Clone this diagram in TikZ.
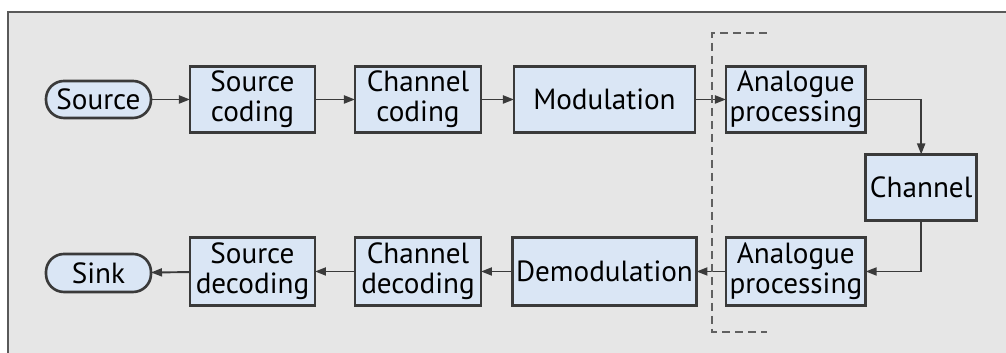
\documentclass[tikz,border=0pt]{standalone}
\usepackage{fontspec}
\setmainfont{PT Sans}
\usepackage{xcolor}
\usetikzlibrary{arrows.meta, positioning}
\definecolor{boxfill}{HTML}{DAE6F5}
\definecolor{panel}{HTML}{E6E6E6}
\definecolor{edge}{HTML}{3A3A3A}
\tikzset{
  blk/.style={rectangle, draw=edge, line width=0.75pt, fill=boxfill, outer sep=0pt,
              minimum height=0.66cm, align=center, inner sep=1pt,
              font=\fontsize{8.3}{8.6}\selectfont},
  term/.style={rectangle, rounded corners=0.18cm, draw=edge, line width=0.75pt,
               fill=boxfill, outer sep=0pt, minimum width=1.05cm, minimum height=0.37cm,
               align=center, inner sep=1pt, font=\fontsize{8.3}{8.6}\selectfont},
  arr/.style={-{Triangle[length=0.11cm, width=0.08cm]}, line width=0.55pt, draw=edge},
  bound/.style={dashed, dash pattern=on 0.08cm off 0.05cm, line width=0.65pt, draw=gray!75!black},
}

\begin{document}
\begin{tikzpicture}[node distance=0.37cm]
  \useasboundingbox (0,0) rectangle (10.06,3.53);
  % grey panel, only its left and top edges are inside the page
  \fill[panel] (0.08,0) rectangle (10.06,3.41);
  \draw[gray!70!black, line width=0.8pt] (0.08,0) -- (0.08,3.41) -- (10.06,3.41);

  % transmitter chain
  \node[term] (src) at (0.985,2.535) {Source};
  \node[blk, minimum width=1.25cm, right=0.39cm of src] (srccod) {Source\\coding};
  \node[blk, minimum width=1.26cm, right=0.40cm of srccod] (chcod) {Channel\\coding};
  \node[blk, minimum width=1.81cm, right=0.33cm of chcod] (mod) {Modulation};
  \node[blk, minimum width=1.39cm, right=0.31cm of mod] (aptx) {Analogue\\processing};
  \node[blk, minimum width=1.11cm, below right=0.22cm and 0cm of aptx] (chan) {Channel};

  % receiver chain
  \node[blk, minimum width=1.39cm, minimum height=0.68cm, below=1.05cm of aptx] (aprx) {Analogue\\processing};
  \node[blk, minimum width=1.81cm, minimum height=0.68cm, below=1.05cm of mod] (demod) {Demodulation};
  \node[blk, minimum width=1.26cm, minimum height=0.68cm, below=1.05cm of chcod] (chdec) {Channel\\decoding};
  \node[blk, minimum width=1.25cm, minimum height=0.68cm, below=1.05cm of srccod] (srcdec) {Source\\decoding};
  \node[term, minimum height=0.38cm] (sink) at (0.985,0.80) {Sink};

  \foreach \a/\b in {src/srccod,srccod/chcod,chcod/mod,mod/aptx,
                     aprx/demod,demod/chdec,chdec/srcdec,srcdec/sink}
    \draw[arr] (\a) -- (\b);
  \draw[arr] (aptx.east) -| (chan.north);
  \draw[arr] (chan.south) |- (aprx.east);

  % analogue front end boundary
  \coordinate (bt) at (7.12,3.20);
  \coordinate (bb) at (7.12,0.21);
  \draw[bound] ([xshift=0.55cm]bt) -- (bt) -- (bb) -- ([xshift=0.55cm]bb);
\end{tikzpicture}
\end{document}
